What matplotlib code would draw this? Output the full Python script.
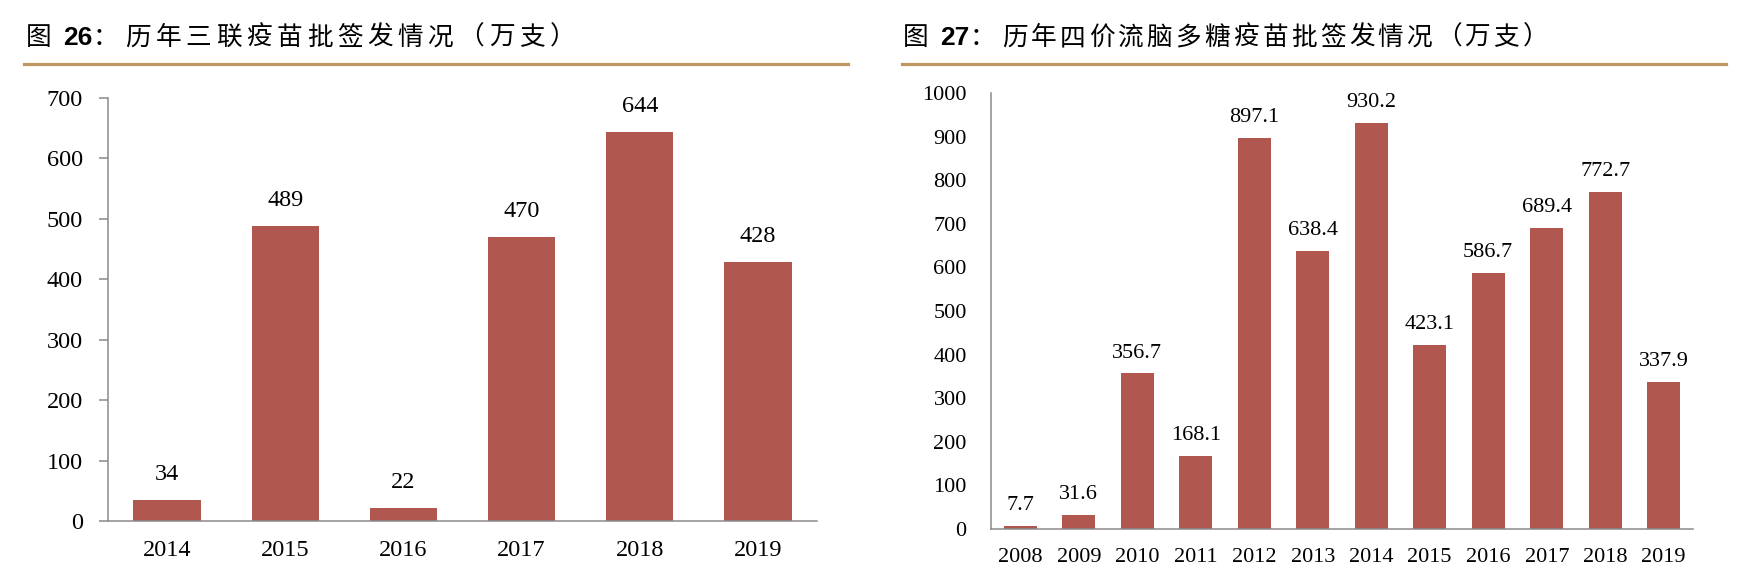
import matplotlib
matplotlib.use("Agg")
import matplotlib.pyplot as plt
from matplotlib.lines import Line2D

W, H = 1758, 584

# data
years_a = ["2014", "2015", "2016", "2017", "2018", "2019"]
vals_a = [34, 489, 22, 470, 644, 428]
labels_a = ["34", "489", "22", "470", "644", "428"]

years_b = ["2008", "2009", "2010", "2011", "2012", "2013",
           "2014", "2015", "2016", "2017", "2018", "2019"]
vals_b = [7.7, 31.6, 356.7, 168.1, 897.1, 638.4, 930.2, 423.1, 586.7, 689.4, 772.7, 337.9]
labels_b = ["7.7", "31.6", "356.7", "168.1", "897.1", "638.4",
            "930.2", "423.1", "586.7", "689.4", "772.7", "337.9"]

title_a = ("26", "历年三联疫苗批签发情况（万支）")
title_b = ("27", "历年四价流脑多糖疫苗批签发情况（万支）")

BAR = "#B05750"
GOLD = "#C09660"
AXC = "#8A8A8A"
SERIF = "Liberation Serif"
CJK = ["Noto Sans CJK SC", "DejaVu Sans"]

fig = plt.figure(figsize=(W / 100, H / 100), dpi=100)


def fx(px):
    return px / W


def fy(py):
    return 1 - py / H


def title(x0, num, rest, step):
    yc = fy(38)
    fig.text(fx(x0 + 11), yc, "图", family=CJK, fontsize=18.5, ha="center", va="center")
    fig.text(fx(x0 + 50), yc, num, family="Liberation Sans", fontweight="bold",
             fontsize=19, ha="center", va="center")
    fig.text(fx(x0 + 77), yc, "：", family=CJK, fontsize=18.5, ha="center", va="center")
    cx = x0 + 110
    for ch in rest:
        fig.text(fx(cx), yc, ch, family=CJK, fontsize=18.5, ha="center", va="center")
        cx += step


def rule(x1, x2):
    fig.add_artist(Line2D([fx(x1), fx(x2)], [fy(64), fy(64)], color=GOLD, lw=2.3,
                          transform=fig.transFigure))


def bars(ax, cats, vals, labs, ymax, step, fs, lab_off):
    x = list(range(len(cats)))
    ax.bar(x, vals, width=0.57, color=BAR)
    ax.set_xlim(-0.5, len(cats) - 0.5)
    ax.set_ylim(0, ymax)
    ax.set_yticks(range(0, ymax + 1, step))
    ax.set_xticks(x)
    ax.set_xticklabels(cats)
    for s in ("top", "right"):
        ax.spines[s].set_visible(False)
    for s in ("left", "bottom"):
        ax.spines[s].set_color(AXC)
        ax.spines[s].set_linewidth(1.1)
    for xi, v, t in zip(x, vals, labs):
        ax.annotate(t, (xi, v), xytext=(0, lab_off), textcoords="offset points",
                    ha="center", va="baseline", family=SERIF, fontsize=fs)
    for lbl in ax.get_xticklabels() + ax.get_yticklabels():
        lbl.set_family(SERIF)
        lbl.set_fontsize(fs)


# left chart
ax1 = fig.add_axes([fx(108), fy(521), fx(817 - 108), (521 - 98) / H])
bars(ax1, years_a, vals_a, labels_a, 700, 100, 17.5, 14.4)
ax1.tick_params(axis="y", length=6.5, width=1.1, color=AXC, pad=11.5)
ax1.tick_params(axis="x", length=0, pad=14)

# right chart
ax2 = fig.add_axes([fx(991), fy(529), fx(1693 - 991), (529 - 93) / H])
bars(ax2, years_b, vals_b, labels_b, 1000, 100, 16, 11.5)
ax2.tick_params(axis="y", length=0, pad=17.5)
ax2.tick_params(axis="x", length=0, pad=13.5)

title(28, *title_a, 30.3)
title(905, *title_b, 28.9)
rule(24, 848)
rule(902, 1726)

fig.savefig("out.png", dpi=100)
